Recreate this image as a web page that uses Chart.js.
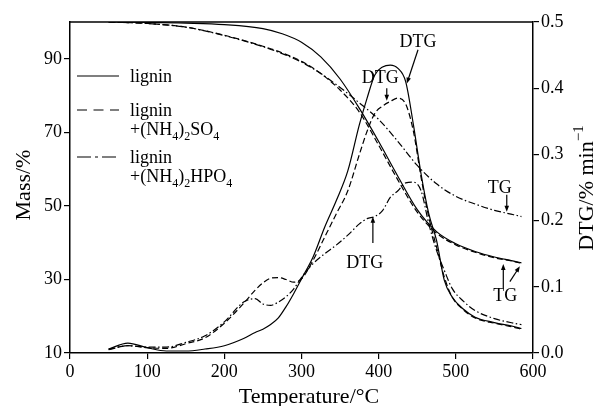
<!DOCTYPE html>
<html>
<head>
<meta charset="utf-8">
<script src="https://cdn.jsdelivr.net/npm/chart.js@4"></script>
<style>
  html, body { margin: 0; padding: 0; background: #fff; }
  #wrap { width: 593px; height: 406px; position: relative; }
</style>
</head>
<body>
<div id="wrap"><canvas id="chart"></canvas></div>
<script>
// TG (left axis) and DTG (right axis) of lignin, lignin+(NH4)2SO4, lignin+(NH4)2HPO4
const tgTemp      = [50, 100, 150, 200, 250, 275, 300, 325, 350, 375, 400, 425, 450, 475, 500, 525, 550, 575, 585];
const tgLignin    = [100, 99.9, 99.7, 99.3, 98.2, 96.8, 94.5, 90.5, 84.5, 76.5, 67.5, 58, 49, 43, 39.7, 37.6, 36.1, 35, 34.5];
const tgSulfate   = [100, 99.6, 98.6, 96.4, 93.4, 91.6, 89.3, 86, 81.5, 75.5, 66.5, 57, 48.3, 42.6, 39.4, 37.4, 35.9, 34.9, 34.4];
const tgPhosphate = [100, 99.6, 98.6, 96.3, 93.3, 91.4, 89.1, 86, 82.2, 78, 73.5, 67.5, 61, 56, 52.6, 50.5, 48.8, 47.6, 47.1];

const dtgTemp      = [50, 75, 100, 125, 150, 175, 200, 225, 240, 250, 260, 270, 280, 290, 300, 315, 330, 345, 360, 375, 385, 395, 405, 415, 425, 435, 445, 455, 465, 475, 485, 495, 510, 525, 550, 575, 585];
const dtgLignin    = [0.006, 0.015, 0.008, 0.003, 0.003, 0.006, 0.011, 0.022, 0.031, 0.036, 0.043, 0.053, 0.07, 0.09, 0.112, 0.145, 0.19, 0.23, 0.275, 0.345, 0.385, 0.42, 0.432, 0.435, 0.43, 0.41, 0.345, 0.27, 0.21, 0.17, 0.11, 0.085, 0.066, 0.054, 0.046, 0.04, 0.037];
const dtgSulfate   = [0.006, 0.011, 0.008, 0.007, 0.014, 0.023, 0.045, 0.075, 0.095, 0.106, 0.113, 0.114, 0.111, 0.107, 0.112, 0.14, 0.175, 0.21, 0.245, 0.3, 0.335, 0.362, 0.373, 0.38, 0.385, 0.376, 0.335, 0.265, 0.205, 0.16, 0.115, 0.085, 0.065, 0.053, 0.045, 0.039, 0.036];
const dtgPhosphate = [0.005, 0.011, 0.009, 0.009, 0.016, 0.026, 0.047, 0.077, 0.082, 0.074, 0.072, 0.077, 0.085, 0.097, 0.114, 0.135, 0.15, 0.163, 0.178, 0.195, 0.203, 0.206, 0.215, 0.235, 0.245, 0.257, 0.258, 0.245, 0.195, 0.155, 0.125, 0.098, 0.078, 0.064, 0.052, 0.045, 0.043];

const tempTicks = [0, 100, 200, 300, 400, 500, 600];
const massTicks = [10, 30, 50, 70, 90];
const dtgTicks  = [0, 0.1, 0.2, 0.3, 0.4, 0.5];

const SOLID = [], DASHED = [6, 3], DASHDOT = [7, 2.5, 1.5, 2.5];
const FONT = '"Liberation Serif", "Times New Roman", serif';

// annotation labels with arrows, in data units (axis: 'y' = mass, 'y1' = DTG)
const notes = [
    { text: 'DTG', axis: 'y1', at: [451, 0.471], from: [451, 0.458], to: [436.5, 0.407] },
    { text: 'DTG', axis: 'y1', at: [402, 0.417], from: [410.5, 0.400], to: [410.5, 0.381] },
    { text: 'DTG', axis: 'y1', at: [382, 0.137], from: [392.5, 0.166], to: [392.5, 0.206] },
    { text: 'TG',  axis: 'y',  at: [557, 55.1],  from: [566, 53.0], to: [566, 48.4] },
    { text: 'TG',  axis: 'y',  at: [564, 25.8],  from: [561.5, 27.7], to: [561.5, 34.2] },
    { text: 'TG',  axis: 'y',  at: [564, 25.8],  from: [570, 29.4], to: [583, 33.6], noLabel: true }
];

const legendItems = [
    { dash: SOLID,   lines: [[['lignin', 'n']]] },
    { dash: [10, 6.5], lines: [[['lignin', 'n']], [['+(NH', 'n'], ['4', 'sub'], [')', 'n'], ['2', 'sub'], ['SO', 'n'], ['4', 'sub']]] },
    { dash: [14, 4, 3, 4], lines: [[['lignin', 'n']], [['+(NH', 'n'], ['4', 'sub'], [')', 'n'], ['2', 'sub'], ['HPO', 'n'], ['4', 'sub']]] }
];

function pts(xs, ys) { return xs.map((x, i) => ({ x, y: ys[i] })); }

function series(label, xs, ys, axis, dash) {
    return {
        label, data: pts(xs, ys), yAxisID: axis,
        borderColor: '#000', borderWidth: 1.2, borderDash: dash,
        pointRadius: 0, fill: false, tension: 0.4, cubicInterpolationMode: 'monotone'
    };
}

function richText(ctx, parts, x, y, size, measureOnly) {
    let cx = x;
    parts.forEach(([s, kind]) => {
        const fs = kind === 'n' ? size : Math.round(size * 0.68);
        ctx.font = `${fs}px ${FONT}`;
        const dy = kind === 'sub' ? size * 0.3 : kind === 'sup' ? -size * 0.42 : 0;
        if (!measureOnly) ctx.fillText(s, cx, y + dy);
        cx += ctx.measureText(s).width;
    });
    return cx - x;
}

function arrow(ctx, x1, y1, x2, y2) {
    const a = Math.atan2(y2 - y1, x2 - x1);
    const len = 6, half = 2.3;
    ctx.beginPath();
    ctx.moveTo(x1, y1);
    ctx.lineTo(x2 - Math.cos(a) * len * 0.8, y2 - Math.sin(a) * len * 0.8);
    ctx.stroke();
    ctx.beginPath();
    ctx.moveTo(x2, y2);
    ctx.lineTo(x2 - Math.cos(a) * len - Math.sin(a) * half, y2 - Math.sin(a) * len + Math.cos(a) * half);
    ctx.lineTo(x2 - Math.cos(a) * len + Math.sin(a) * half, y2 - Math.sin(a) * len - Math.cos(a) * half);
    ctx.closePath();
    ctx.fill();
}

const decorPlugin = {
    id: 'decor',
    afterDraw(chart) {
        const { ctx, chartArea: ca, scales } = chart;
        ctx.save();
        ctx.fillStyle = '#000';
        ctx.strokeStyle = '#000';

        // top frame line
        ctx.lineWidth = 1.5;
        ctx.beginPath();
        ctx.moveTo(ca.left, ca.top);
        ctx.lineTo(ca.right, ca.top);
        ctx.stroke();

        // axis titles
        ctx.textAlign = 'center';
        ctx.textBaseline = 'alphabetic';
        ctx.font = `22px ${FONT}`;
        ctx.fillText('Temperature/\u00B0C', 309, 403);

        ctx.save();
        ctx.translate(22.5, 185);
        ctx.rotate(-Math.PI / 2);
        ctx.fillText('Mass/%', 0, 7.5);
        ctx.restore();

        const rParts = [['DTG/% min', 'n'], ['\u22121', 'sup']];
        ctx.save();
        ctx.translate(585, 188);
        ctx.rotate(-Math.PI / 2);
        ctx.textAlign = 'left';
        const w = richText(ctx, rParts, 0, 0, 22, true);
        richText(ctx, rParts, -w / 2, 7.5, 22);
        ctx.restore();

        // legend
        ctx.textAlign = 'left';
        const legendRows = [76, 110, 157];
        legendItems.forEach((item, i) => {
            const ly = legendRows[i];
            ctx.lineWidth = 1.2;
            ctx.setLineDash(item.dash);
            ctx.beginPath();
            ctx.moveTo(77, ly);
            ctx.lineTo(119, ly);
            ctx.stroke();
            ctx.setLineDash([]);
            item.lines.forEach((parts, j) => {
                richText(ctx, parts, 130, ly + 6 + j * 19, 18);
            });
        });

        // annotations
        ctx.textAlign = 'center';
        ctx.font = `18px ${FONT}`;
        ctx.lineWidth = 1.2;
        notes.forEach(n => {
            const ys = scales[n.axis];
            const px = v => scales.x.getPixelForValue(v);
            if (!n.noLabel) {
                ctx.font = `18px ${FONT}`;
                ctx.fillText(n.text, px(n.at[0]), ys.getPixelForValue(n.at[1]) + 6);
            }
            arrow(ctx, px(n.from[0]), ys.getPixelForValue(n.from[1]), px(n.to[0]), ys.getPixelForValue(n.to[1]));
        });
        ctx.restore();
    }
};

const tickFont = { family: FONT, size: 18 };
const axisGrid = { drawOnChartArea: false, drawTicks: true, tickLength: 6, color: '#000', lineWidth: 1.2 };
const axisBorder = { display: true, color: '#000', width: 1.5 };

new Chart(document.getElementById('chart').getContext('2d'), {
    type: 'line',
    data: {
        datasets: [
            series('lignin TG', tgTemp, tgLignin, 'y', SOLID),
            series('lignin+(NH4)2SO4 TG', tgTemp, tgSulfate, 'y', DASHED),
            series('lignin+(NH4)2HPO4 TG', tgTemp, tgPhosphate, 'y', DASHDOT),
            series('lignin DTG', dtgTemp, dtgLignin, 'y1', SOLID),
            series('lignin+(NH4)2SO4 DTG', dtgTemp, dtgSulfate, 'y1', DASHED),
            series('lignin+(NH4)2HPO4 DTG', dtgTemp, dtgPhosphate, 'y1', DASHDOT)
        ]
    },
    options: {
        responsive: true,
        maintainAspectRatio: false,
        animation: false,
        layout: { padding: { top: 22, left: 0, right: 0, bottom: 0 } },
        plugins: { legend: { display: false }, tooltip: { enabled: false } },
        scales: {
            x: {
                type: 'linear', min: 0, max: 600,
                afterBuildTicks: s => { s.ticks = tempTicks.map(value => ({ value })); },
                afterFit: s => { s.height = 53; },
                ticks: { color: '#000', font: tickFont, padding: 2, maxRotation: 0 },
                grid: axisGrid, border: axisBorder
            },
            y: {
                position: 'left', min: 10, max: 100,
                afterBuildTicks: s => { s.ticks = massTicks.map(value => ({ value })); },
                afterFit: s => { s.width = 70; },
                ticks: { color: '#000', font: tickFont, padding: 2 },
                grid: axisGrid, border: axisBorder
            },
            y1: {
                position: 'right', min: 0, max: 0.5,
                afterBuildTicks: s => { s.ticks = dtgTicks.map(value => ({ value })); },
                afterFit: s => { s.width = 60; },
                ticks: { color: '#000', font: tickFont, padding: 2, callback: v => v.toFixed(1) },
                grid: axisGrid, border: axisBorder
            }
        }
    },
    plugins: [decorPlugin]
});
</script>
</body>
</html>
